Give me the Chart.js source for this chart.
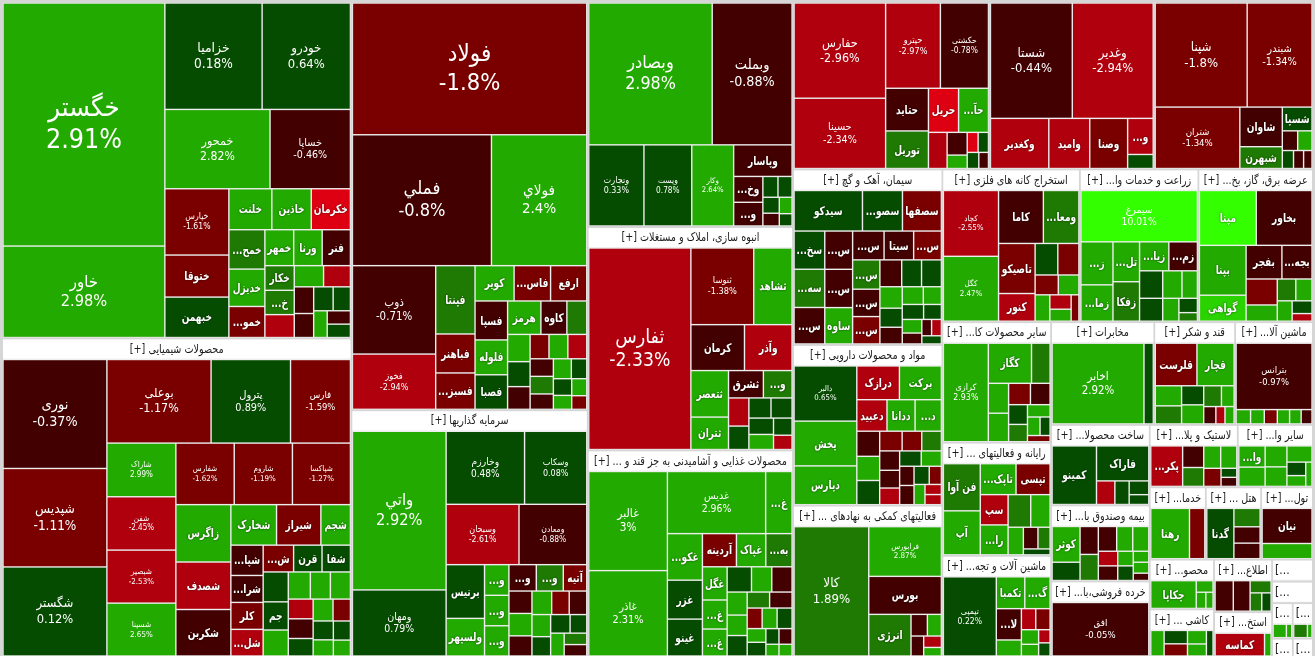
<!DOCTYPE html>
<html>
<head>
<meta charset="utf-8">
<script src="https://cdn.jsdelivr.net/npm/chart.js@4.4.1/dist/chart.umd.min.js"></script>
<style>
  html, body { margin: 0; padding: 0; background: #d6d6d6; overflow: hidden; }
  #wrap { width: 1315px; height: 656px; }
</style>
</head>
<body>
<div id="wrap"><canvas id="map"></canvas></div>
<script>
// sectors (top level) and their weights
const sectors = [
  "خودرو و ساخت قطعات", "محصولات شیمیایی", "فلزات اساسی", "سرمایه گذاریها",
  "بانکها و موسسات اعتباری", "انبوه سازی، املاک و مستغلات", "محصولات غذایی و آشامیدنی به جز قند و شکر",
  "حمل و نقل، انبارداری و ارتباطات", "شرکتهای چند رشته ای صنعتی", "فراورده های نفتی، کک و سوخت هسته ای",
  "سیمان، آهک و گچ", "مواد و محصولات دارویی", "فعالیتهای کمکی به نهادهای مالی واسط",
  "استخراج کانه های فلزی", "زراعت و خدمات وابسته", "عرضه برق، گاز، بخار و آب گرم",
  "سایر محصولات کانی غیرفلزی", "رایانه و فعالیتهای وابسته به آن", "ماشین آلات و تجهیزات",
  "مخابرات", "قند و شکر", "ماشین آلات و دستگاههای برقی", "ساخت محصولات فلزی",
  "بیمه وصندوق بازنشستگی به جزتامین اجتماعی", "خرده فروشی،باستثنای وسایل نقلیه موتوری",
  "لاستیک و پلاستیک", "سایر واسطه گریهای مالی", "خدمات فنی و مهندسی", "هتل و رستوران",
  "تولید محصولات کامپیوتری الکترونیکی ونوری", "محصولات کاغذی", "کاشی و سرامیک",
  "اطلاعات و ارتباطات", "استخراج ذغال سنگ", "منسوجات", "محصولات چوبی",
  "استخراج نفت گاز و خدمات جنبی", "حمل و نقل آبی", "دباغی، پرداخت چرم", "چاپ و تکثیر"
];
const sectorSize = [
  117600, 111300, 96500, 58300, 46200, 45900, 42400, 32900, 27600, 26600,
  26200, 24000, 22600, 21000, 18100, 17500, 13100, 12300, 11000, 10600,
  8300, 8000, 7950, 7500, 7450, 5500, 4700, 4050, 4000, 3750,
  3200, 3060, 3050, 2600, 900, 880, 730, 720, 380, 370
];

// symbols per sector (unreadable tiny cells have no name)
const symbols = [
  ["خگستر","خاور","خزامیا","خودرو","خمحور","خساپا","خپارس","ختوقا","خبهمن","خلنت","خاذین","خکرمان","خمحرکه","خدیزل","خموتور","خمهر","ورنا","فنر","خکار","خشرق"],
  ["نوری","شپدیس","شگستر","بوعلی","پترول","فارس","شاراک","شفن","شبصیر","شسینا","شفارس","شاروم","شپاکسا","زاگرس","شصدف","شکربن","شخارک","شیراز","شجم","شپارس","شرانل","کلر","شلعاب","شنفت","قرن","شفا","شکف","جم"],
  ["فولاد","فملي","فولاي","ذوب","فخوز","فپنتا","فباهنر","فسبزوار","کویر","فاسمين","ارفع","فسپا","فلوله","فصبا","هرمز","کاوه","فرود"],
  ["واتي","ومهان","وخارزم","وسکاب","وسبحان","ومعادن","برنیس","ولسپهر","وتوشه","وسنا","وسپه","وصنعت","ونفت","آتیه"],
  ["وبصادر","وبملت","وتجارت","وپست","وکار","وپاسار","وخاور","وسینا"],
  ["ثفارس","ثنوسا","ثشاهد","کرمان","وآذر","ثتعصر","ثتران","ثشرق","وساخت","ثامان"],
  ["غالبر","غاذر","غدیس","غگرجی","غکورش","غزر","غینو","آردینه","غپاک","بهپاک","غگل","غمینو","غشاذر"],
  ["حفارس","حسینا","حپترو","حکشتی","حتاید","توریل","حریل","حآفرین"],
  ["شستا","وغدیر","وکغدیر","وامید","وصنا","وتوکا","وتوصا"],
  ["شپنا","شبندر","شتران","شاوان","شبهرن","شسپا"],
  ["سیدکو","سصوفی","سصفها","سخاش","سهگمت","ستران","سشمال","سغرب","ساوه","سفارس","سیتا","سفار","سمازن","سبهان","سشرق"],
  ["دالبر","پخش","دپارس","درازک","برکت","دعبید","ددانا","دکوثر","دفارا","دسینا","دلر"],
  ["کالا","فرابورس","بورس","انرژی"],
  ["کچاد","کگل","کاما","ومعادن","تاصیکو","کنور","کدما","کسرا"],
  ["سیمرغ","زشگزا","زماهان","تلیسه","زفکا","زیاران","زملارد"],
  ["مپنا","بخاور","بپنا","گواهی","بفجر","بجهرم"],
  ["کرازی","کگاز","کساپا","کفرا"],
  ["فن آوا","آپ","تاپکیش","تپسی","سپ","رانفور","توسن"],
  ["تپمپی","تکمبا","گکیش","لابسا"],
  ["اخابر","همراه"],
  ["قلرست","قچار"],
  ["بترانس"],
  ["کمینو","فاراک"],
  ["کوثر"],
  ["افق"],
  ["پکرمان"],
  ["واعتبار"],
  ["رهنا"],
  ["گدنا"],
  ["نیان"],
  ["چکاپا"],
  [],
  [],
  ["کماسه"],
  [], [], [], [], [], []
];

// cell weights per sector
const sizes = [
  [38000,14300,10000,9080,8060,6160,4100,2600,2500,1700,1560,1550,1370,1300,1080,1000,990,980,700,690,650,600,550,500,450,450,400,350,300,300],
  [10400,9400,8500,8000,6100,4600,3400,3380,3360,3350,3300,3290,3280,2900,2400,2350,1700,1650,1100,900,800,800,790,750,700,700,690,650,600,550,500,500,450,450,400,400,350,350,300,300,250],
  [30200,17800,12200,7200,4500,2630,1500,1400,1350,1260,1250,1240,1110,1100,1090,850,650,600,550,500,450,450,450,400,400,350,350,300,300,250,250,200],
  [14400,6000,5550,4400,4260,3960,2000,1400,725,720,715,700,690,600,500,500,450,450,400,400,400,350,350,300,300,250,250],
  [16700,10800,4270,3700,3240,1760,720,660,300,280,250,200,200,150],
  [19400,4540,2770,2320,2060,1650,1150,900,740,540,450,420,400,380,350,300,250],
  [7600,6550,5950,1600,1590,1330,1260,1100,950,850,800,700,650,600,500,500,450,400,400,350,350,300,300,300,250,250,200,200,150,150],
  [8400,6200,4500,3950,1760,1550,1280,1270,650,440,260,210,200,180,150],
  [9200,9100,2850,2000,1850,900,350],
  [9500,6700,5160,1670,920,700,300,280,200,180,150],
  [2600,1520,1480,1100,1100,1050,1000,1000,950,850,800,750,750,700,700,550,500,500,450,400,350,350,300,300,250,250,200,150,150,150],
  [3130,2540,2200,1300,1280,860,800,750,520,500,500,400,350,350,350,320,300,300,280,250,250,250,200,200,150,150],
  [9550,3570,2730,1740,350,300,250,200,150],
  [3550,3500,2320,1840,1790,990,700,650,450,400,380,300,250,200],
  [5640,1300,1100,1000,990,800,780,600,500,500,400,350,250,150],
  [3080,3020,2300,1200,1190,1000,800,500,400,350,300,250,150],
  [4750,1860,800,650,620,500,450,400,350,300,250,200,150],
  [1650,1540,1050,1000,800,790,700,600,400,300,250,150],
  [4160,900,800,780,400,300,300,250,200,150,150],
  [6900,700],
  [1680,1500,500,450,400,400,350,250,200,150,150],
  [4860,200,190,180,170,160,150],
  [2700,1900,450,350,280,200],
  [880,450,450,420,400,350,350,250,250,200,200,150,150,100],
  [4800],
  [1360,480,420,400,380,330,150,150],
  [550,500,450,420,400,250,200,150],
  [1860,735],
  [1270,450,400,380],
  [1700,735],
  [1620,250,200,150],
  [600,550,500,450,400,300],
  [650,600,300,250,200],
  [1500,200],
  [400,150],[380,150],[300,120],[300,100],[200],[200]
];

// percent change per cell
const changes = [
  [2.91,2.98,0.18,0.64,2.82,-0.46,-1.61,-1.3,0.52,2.5,2.6,-3.6,1.5,2.4,-1.2,2.5,2.4,-0.6,1.4,1.3,-2.4,2.3,-2.6,-0.7,-0.5,0.4,0.3,2.2,-0.9,0.6],
  [-0.37,-1.11,0.12,-1.17,0.89,-1.59,2.99,-2.45,-2.53,2.65,-1.62,-1.19,-1.27,2.5,-2.6,-0.6,2.4,-1.4,2.3,-0.8,-0.7,-1.5,-2.2,-1.3,0.6,0.4,0.5,0.7,2.1,2.3,2.2,2.0,-2.3,-0.8,0.6,2.4,-1.2,0.5,2.2,0.3,2.1],
  [-1.8,-0.8,2.4,-0.71,-2.94,1.5,-1.3,-1.4,2.5,-1.2,-1.1,-0.6,2.3,0.6,2.2,-0.6,1.5,2.3,0.5,-0.7,-1.2,2.2,-2.2,-0.5,1.4,-0.6,2.1,0.4,0.5,2.2,2.3,-1.3],
  [2.92,0.79,0.48,0.08,-2.61,-0.88,0.6,2.3,2.2,2.4,2.1,-0.7,1.3,-1.4,-0.6,2.3,-0.7,2.2,-1.2,-0.5,2.1,0.4,0.5,0.3,2.2,1.3,-0.6],
  [2.98,-0.88,0.33,0.78,2.64,-0.6,-0.5,-0.7,0.5,0.4,0.6,-0.6,2.2,0.4],
  [-2.33,-1.38,2.5,-0.6,-2.5,2.3,2.4,-0.7,1.4,-2.1,0.4,0.5,0.6,0.3,2.2,0.5,-2.2],
  [3,2.31,2.96,2.4,2.2,0.6,0.5,-1.5,2.3,1.3,2.2,2.4,2.1,0.5,2.3,-0.6,2.2,2.4,0.4,1.4,-0.7,-1.3,2.2,0.5,2.1,0.4,0.3,-0.6,2.2,2.3],
  [-2.96,-2.34,-2.97,-0.78,-0.6,1.6,-3.5,2.4,-2.3,-0.7,2.2,-3.3,0.4,0.5,-0.6],
  [-0.44,-2.94,-2.5,-2.4,-1.2,-2.2,0.5],
  [-1.8,-1.34,-1.34,-0.6,1.5,0.5,-0.5,2.2,0.4,-0.6,-0.5],
  [0.6,0.5,-1.4,0.4,1.3,-0.6,-0.7,-0.8,2.3,-0.5,-0.6,-1.1,1.5,-0.7,-1.2,-0.6,0.5,0.4,2.2,0.5,-0.6,2.3,2.2,0.4,0.5,2.1,-0.7,-0.5,-2.2,0.4],
  [0.65,2.5,2.3,-2.3,2.4,-2.2,2.4,2.2,-0.6,2.2,0.5,-1.2,-1.3,1.4,-0.6,-0.7,-2.2,0.4,2.2,-0.6,-0.5,0.5,-1.2,2.1,-2.3,-2.2],
  [1.89,2.87,-0.6,1.5,-0.5,2.2,-0.6,-2.2,2.1],
  [-2.55,2.47,-0.6,1.4,-1.3,-2.2,0.5,-1.2,-1.3,2.2,2.1,-2.1,2.0,-1.2],
  [10.01,2.3,2.3,2.2,1.5,2.3,-0.6,0.5,0.4,2.2,2.3,2.1,0.5,1.3],
  [6.5,-0.85,2.4,4.3,-0.6,-0.7,-1.3,2.3,1.4,2.2,2.1,0.5,-2.2],
  [2.93,2.4,1.4,2.3,2.2,-1.3,-0.6,0.5,1.3,2.2,2.1,0.4,-1.2],
  [1.5,2.3,2.4,-1.3,-2.2,2.3,1.4,2.2,2.1,-0.6,1.3,0.4],
  [0.22,2.4,2.3,-0.6,2.2,-2.2,-1.2,2.1,2.2,-2.3,0.4],
  [2.92,0.5],
  [-1.4,2.4,2.2,1.4,0.5,2.3,1.3,2.2,-0.6,-2.2,2.1],
  [-0.97,2.3,2.2,-1.2,2.4,2.1,-0.5],
  [0.45,0.6,-2.2,0.4,0.5,0.3],
  [2.3,0.5,-0.7,1.4,-0.6,2.2,2.1,-2.2,-0.6,2.2,0.4,2.1,2.3,-0.5],
  [-0.05],
  [-2.3,-0.6,1.4,2.3,2.2,-1.3,0.4,-0.6],
  [2.3,2.2,2.1,2.3,2.2,0.5,2.1,2.2],
  [2.4,-1.3],
  [0.6,1.4,-0.6,-0.7],
  [-0.6,2.3],
  [2.4,2.2,2.1,2.3],
  [2.3,0.5,-1.3,2.2,2.1,0.4],
  [-0.7,-0.6,1.4,1.3,0.5],
  [-2.4,2.2],
  [2.2,1.4],[2.1,0.5],[2.3,2.2],[1.3,2.2],[2.1],[2.2]
];

// map frame in scale units
const MAP = { x0: 2, y0: 2, x1: 1313, y1: 657 };
const HEADER = 19;
const FONT = '"DejaVu Sans", sans-serif';

function colorFor(v) {
  if (v >= 5) return 'rgb(51,255,0)';
  if (v >= 4) return 'rgb(42,210,0)';
  if (v >= 2) return 'rgb(34,170,0)';
  if (v >= 1) return 'rgb(30,122,2)';
  if (v >= 0) return 'rgb(5,76,0)';
  if (v > -1) return 'rgb(66,0,0)';
  if (v > -2) return 'rgb(122,0,0)';
  if (v > -3) return 'rgb(176,0,14)';
  return 'rgb(222,0,18)';
}

function worst(area, a, b, sum, side) {
  let mx = -Infinity, mn = Infinity;
  for (let j = a; j < b; j++) { mx = Math.max(mx, area[j]); mn = Math.min(mn, area[j]); }
  const s2 = sum * sum, q = side * side;
  return Math.max(q * mx / s2, s2 / (q * mn));
}

// squarified treemap: returns one rect per weight (same order as weights)
function squarify(weights, x, y, w, h) {
  const idx = weights.map((v, i) => i).sort((a, b) => weights[b] - weights[a]);
  const total = idx.reduce((s, i) => s + weights[i], 0);
  const area = idx.map(i => weights[i] * (w * h) / total);
  const out = new Array(weights.length);
  let k = 0;
  while (k < idx.length) {
    const side = Math.min(w, h);
    let end = k + 1, sum = area[k];
    let best = worst(area, k, end, sum, side);
    while (end < idx.length) {
      const s2 = sum + area[end];
      const w2 = worst(area, k, end + 1, s2, side);
      if (w2 > best) break;
      best = w2; sum = s2; end++;
    }
    if (w >= h) {
      const cw = sum / h; let yy = y;
      for (let j = k; j < end; j++) {
        const ch = area[j] / cw;
        out[idx[j]] = { x: x, y: yy, w: cw, h: ch };
        yy += ch;
      }
      x += cw; w -= cw;
    } else {
      const rh = sum / w; let xx = x;
      for (let j = k; j < end; j++) {
        const cw = area[j] / rh;
        out[idx[j]] = { x: xx, y: y, w: cw, h: rh };
        xx += cw;
      }
      y += rh; h -= rh;
    }
    k = end;
  }
  return out;
}

const pctText = v => (+v.toFixed(2)) + '%';

// DejaVu is wider than the original font, so text gets squeezed a little
function textW(ctx, s, k) { return ctx.measureText(s).width * k; }
function drawText(ctx, s, x, y, k, dir) {
  ctx.save();
  ctx.translate(x, y);
  ctx.scale(k, 1);
  ctx.direction = dir;
  ctx.fillText(s, 0, 0);
  ctx.restore();
}
function fitName(ctx, name, maxW, k, tail) {
  if (textW(ctx, name + tail, k) <= maxW) return name + tail;
  for (let n = name.length - 1; n > 0; n--) {
    const t = name.slice(0, n) + '...' + tail;
    if (textW(ctx, t, k) <= maxW) return t;
  }
  return null;
}

const treemapPlugin = {
  id: 'treemap',
  afterDatasetsDraw(chart) {
    const ctx = chart.ctx;
    const sx = chart.scales.x, sy = chart.scales.y;
    const X = v => sx.getPixelForValue(v);
    const Y = v => sy.getPixelForValue(v);
    const fill = (x, y, w, h, c) => {
      if (w <= 0 || h <= 0) return;
      ctx.fillStyle = c;
      ctx.fillRect(X(x), Y(y), X(x + w) - X(x), Y(y + h) - Y(y));
    };

    ctx.save();
    fill(0, 0, 1315, 656, '#d6d6d6');

    const groups = squarify(sectorSize, MAP.x0, MAP.y0, MAP.x1 - MAP.x0, MAP.y1 - MAP.y0);
    groups.forEach((g, gi) => {
      const gx = g.x + 1, gy = g.y + 1, gw = g.w - 2, gh = g.h - 2;
      fill(gx, gy, gw, gh, '#eeeeee');
      let cy = gy, ch = gh;

      if (g.y > MAP.y0 + 0.5) {
        fill(gx, gy, gw, Math.min(HEADER, gh), '#ffffff');
        ctx.save();
        ctx.beginPath();
        ctx.rect(X(gx), Y(gy), X(gx + gw) - X(gx), Y(gy + HEADER) - Y(gy));
        ctx.clip();
        ctx.font = '12px ' + FONT;
        ctx.fillStyle = '#1a1a1a';
        ctx.textBaseline = 'middle';
        ctx.textAlign = 'center';
        const maxW = X(gx + gw) - X(gx) - 6;
        const s = fitName(ctx, sectors[gi], maxW, 0.8, ' [+]');
        if (s) {
          drawText(ctx, s, X(gx + gw / 2), Y(gy + HEADER / 2 + 0.5), 0.8, 'rtl');
        } else {
          ctx.textAlign = 'left';
          drawText(ctx, '[...', X(gx + 2), Y(gy + HEADER / 2 + 0.5), 0.9, 'ltr');
        }
        ctx.restore();
        cy = gy + HEADER + 1;
        ch = gh - HEADER - 1;
      }
      if (ch <= 1) return;

      const cells = squarify(sizes[gi], gx, cy, gw, ch);
      cells.forEach((c, i) => {
        const v = changes[gi][i];
        const x = c.x + 0.7, y = c.y + 0.7, w = c.w - 1.4, h = c.h - 1.4;
        fill(x, y, w, h, colorFor(v));
        const name = symbols[gi][i] || '';
        if (!name) return;
        const pw = X(x + w) - X(x), ph = Y(y + h) - Y(y);
        const cx = X(x + w / 2), cyy = Y(y + h / 2);
        ctx.save();
        ctx.beginPath();
        ctx.rect(X(x), Y(y), pw, ph);
        ctx.clip();
        ctx.fillStyle = '#ffffff';
        ctx.textAlign = 'center';
        ctx.textBaseline = 'middle';
        if (pw * ph >= 3080 && pw > 34 && ph > 28) {
          let fs = Math.max(7, Math.min(27, Math.sqrt(pw * ph) / 7.4));
          const pct = pctText(v);
          ctx.font = fs + 'px ' + FONT;
          const tw = Math.max(textW(ctx, name, 0.92), textW(ctx, pct, 0.9));
          if (tw > pw - 6) fs = Math.max(6, fs * (pw - 6) / tw);
          ctx.font = fs + 'px ' + FONT;
          drawText(ctx, name, cx, cyy - fs * 0.58, 0.92, 'rtl');
          drawText(ctx, pct, cx, cyy + fs * 0.62, 0.9, 'ltr');
        } else if (pw >= 22 && ph >= 18) {
          ctx.font = 'bold 12px ' + FONT;
          const s = fitName(ctx, name, pw - 3, 0.75, '');
          if (s) {
            ctx.shadowColor = 'rgba(0,0,0,0.7)';
            ctx.shadowBlur = 2;
            drawText(ctx, s, cx, cyy + 1, 0.75, 'rtl');
          }
        }
        ctx.restore();
      });
    });
    ctx.restore();
  }
};

new Chart(document.getElementById('map'), {
  type: 'scatter',
  data: { datasets: [{ data: [] }] },
  options: {
    responsive: true,
    maintainAspectRatio: false,
    animation: false,
    events: [],
    layout: { padding: 0 },
    plugins: { legend: { display: false }, tooltip: { enabled: false } },
    scales: {
      x: { type: 'linear', min: 0, max: 1315, display: false },
      y: { type: 'linear', min: 0, max: 656, reverse: true, display: false }
    }
  },
  plugins: [treemapPlugin]
});
</script>
</body>
</html>
